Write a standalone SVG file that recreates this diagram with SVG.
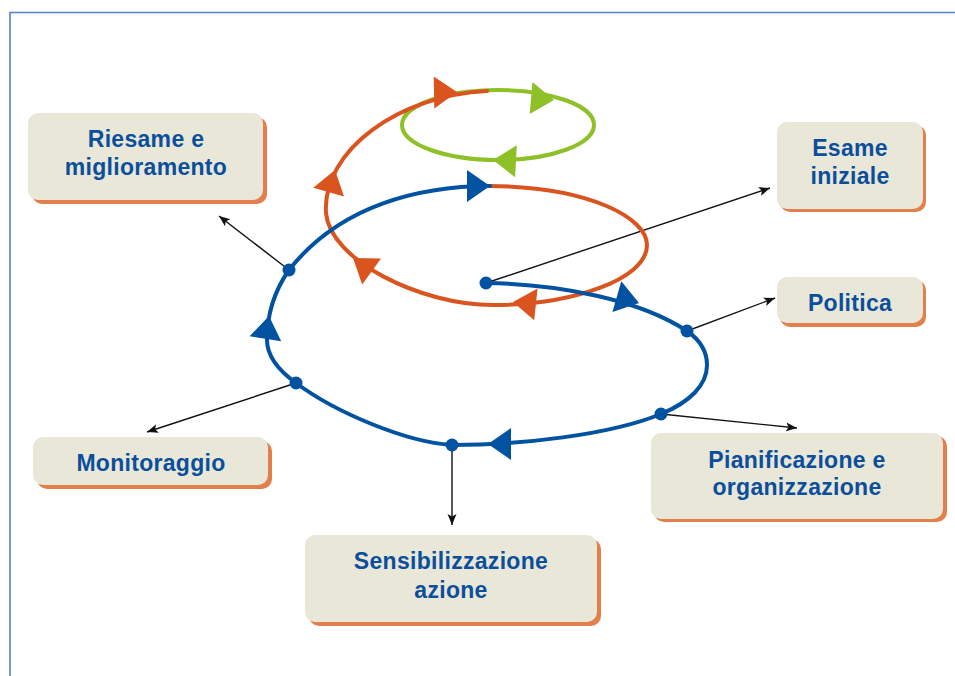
<svg xmlns="http://www.w3.org/2000/svg" xmlns:xlink="http://www.w3.org/1999/xlink" width="955" height="676" viewBox="0 0 955 676">
<style>
.shadow{fill:#e2804c}
.box{fill:#e9e7d7}
.lbl{font-family:"Liberation Sans",Arial,sans-serif;font-weight:bold;font-size:23px;fill:#0b4f9c;text-anchor:middle;letter-spacing:0.3px}
.blue{fill:none;stroke:#0152a0;stroke-width:4;stroke-linecap:round}
.orange{fill:none;stroke:#d9541e;stroke-width:4;stroke-linecap:round}
.green{fill:none;stroke:#8dc127;stroke-width:4}
.conn{fill:none;stroke:#111;stroke-width:1.4}
.dot{fill:#0152a0}
</style>
<defs>
<path id="tri" d="M0,0 L-23,-16 L-23,16 Z"/>
<marker id="ah" markerWidth="12" markerHeight="10" refX="11" refY="4.5" orient="auto" markerUnits="userSpaceOnUse">
<path d="M0,0 L11,4.5 L0,9 L2.5,4.5 Z" fill="#111"/>
</marker>
</defs>
<rect width="955" height="676" fill="#fff"/>
<path d="M10,676 L10,12.5 L955,12.5" fill="none" stroke="#4f82c4" stroke-width="1.6"/>

<g id="connectors">
<line class="conn" x1="486" y1="283" x2="770" y2="188" marker-end="url(#ah)"/>
<line class="conn" x1="687" y1="331" x2="775" y2="298" marker-end="url(#ah)"/>
<line class="conn" x1="661" y1="414" x2="797" y2="428" marker-end="url(#ah)"/>
<line class="conn" x1="452" y1="445" x2="452" y2="525" marker-end="url(#ah)"/>
<line class="conn" x1="296" y1="383" x2="147" y2="432" marker-end="url(#ah)"/>
<line class="conn" x1="289" y1="270" x2="219" y2="216" marker-end="url(#ah)"/>
</g>

<g id="cycle">
<ellipse class="green" cx="498" cy="125" rx="96" ry="35"/>
<path class="orange" d="M490,186 C590,187 647,218 647,245 C647,280 570,305 493,305 C420,305 330,260 326,213 C322,150 400,95 487,91"/>
<path class="blue" d="M486,283 C560,284 640,300 687,331 C700,340 707,352 707,365 C707,385 690,402 661,414 C610,435 520,445 452,445 C405,442 335,412 296,383 C278,370 267,355 267,340 C267,315 275,290 289,270 C340,205 420,186 490,186"/>
<use xlink:href="#tri" fill="#0152a0" transform="translate(490,186) rotate(0)"/>
<use xlink:href="#tri" fill="#0152a0" transform="translate(639,303) rotate(16)"/>
<use xlink:href="#tri" fill="#0152a0" transform="translate(488,444) rotate(180)"/>
<use xlink:href="#tri" fill="#0152a0" transform="translate(269,316) rotate(-81)"/>
<use xlink:href="#tri" fill="#d9541e" transform="translate(457,92) rotate(-1)"/>
<use xlink:href="#tri" fill="#d9541e" transform="translate(335,170) rotate(-74)"/>
<use xlink:href="#tri" fill="#d9541e" transform="translate(353,258) rotate(-144)"/>
<use xlink:href="#tri" fill="#d9541e" transform="translate(513,302) rotate(186)"/>
<use xlink:href="#tri" fill="#8dc127" transform="translate(554,100) rotate(5)"/>
<use xlink:href="#tri" fill="#8dc127" transform="translate(493,160) rotate(183)"/>
<circle class="dot" cx="486" cy="283" r="6.5"/>
<circle class="dot" cx="687" cy="331" r="6.5"/>
<circle class="dot" cx="661" cy="414" r="6.5"/>
<circle class="dot" cx="452" cy="445" r="6.5"/>
<circle class="dot" cx="296" cy="383" r="6.5"/>
<circle class="dot" cx="289" cy="270" r="6.5"/>
</g>

<g id="riesame">
<rect class="shadow" x="32" y="117" width="235" height="87" rx="10"/>
<rect class="box" x="28" y="113" width="235" height="87" rx="10"/>
<text class="lbl" x="146" y="147">Riesame e</text>
<text class="lbl" x="146" y="175">miglioramento</text>
</g>
<g id="esame">
<rect class="shadow" x="780" y="125" width="146" height="87" rx="10"/>
<rect class="box" x="777" y="122" width="146" height="87" rx="10"/>
<text class="lbl" x="850" y="156">Esame</text>
<text class="lbl" x="850" y="184">iniziale</text>
</g>
<g id="politica">
<rect class="shadow" x="780" y="280" width="146" height="47" rx="10"/>
<rect class="box" x="777" y="277" width="146" height="46" rx="10"/>
<text class="lbl" x="850" y="311">Politica</text>
</g>
<g id="pianificazione">
<rect class="shadow" x="654" y="436" width="293" height="86" rx="10"/>
<rect class="box" x="651" y="433" width="292" height="86" rx="10"/>
<text class="lbl" x="797" y="468">Pianificazione e</text>
<text class="lbl" x="797" y="495">organizzazione</text>
</g>
<g id="sensibilizzazione">
<rect class="shadow" x="309" y="539" width="292" height="87" rx="10"/>
<rect class="box" x="305" y="535" width="292" height="87" rx="10"/>
<text class="lbl" x="451" y="569">Sensibilizzazione</text>
<text class="lbl" x="451" y="598">azione</text>
</g>
<g id="monitoraggio">
<rect class="shadow" x="37" y="441" width="235" height="48" rx="10"/>
<rect class="box" x="33" y="437" width="235" height="48" rx="10"/>
<text class="lbl" x="151" y="471">Monitoraggio</text>
</g>
</svg>
